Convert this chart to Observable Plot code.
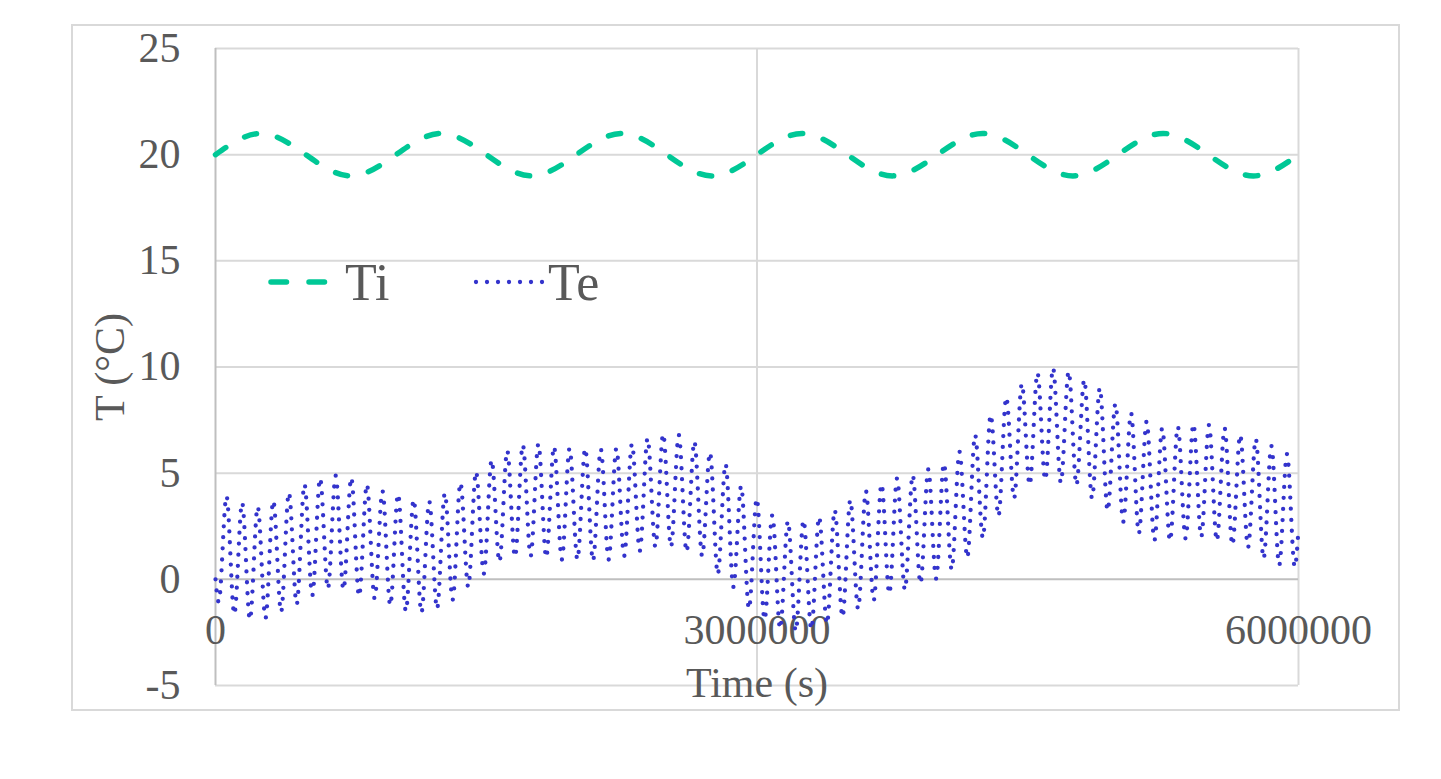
<!DOCTYPE html>
<html>
<head>
<meta charset="utf-8">
<script src="https://cdn.jsdelivr.net/npm/d3@7"></script>
<script src="https://cdn.jsdelivr.net/npm/@observablehq/plot@0.6"></script>
<style>
  body { margin: 0; background: #fff; }
  #wrap { position: relative; width: 1441px; height: 779px; overflow: hidden; }
  #border { position: absolute; left: 71px; top: 24px; width: 1325px; height: 683px; border: 2px solid #d9d9d9; }
  #chart { position: absolute; left: 0; top: 0; }
  #legend { position: absolute; left: 0; top: 0; pointer-events: none; }
</style>
</head>
<body>
<div id="wrap">
  <div id="border"></div>
  <div id="chart"></div>
  <svg id="legend" width="1441" height="779"></svg>
</div>
<script>
// ---- data ----
const xTicks = [0, 3000000, 6000000];
const yTicks = [-5, 0, 5, 10, 15, 20, 25];
const xTitle = "Time (s)";
const yTitle = "T (°C)";
const seriesNames = ["Ti", "Te"];

// Ti: value every 250000 s
const tiStep = 250000;
const tiValues = [20, 21, 20, 19, 20, 21, 20, 19, 20, 21, 20, 19, 20,
                  21, 20, 19, 20, 21, 20, 19, 20, 21, 20, 19, 20];

// Te: daily maxima / minima (one per day), plus start and end values
const daySeconds = 86400;
const tePeakOffset = 61000;
const teTroughOffset = 17800;
const teStart = 0;
const teEnd = 2.4;
const tePeaks = [
  3.92, 3.61, 3.42, 3.70, 4.08, 4.47, 4.76, 4.88, 4.79, 4.47, 4.16, 4.02, 3.76, 3.67, 4.05, 4.55, 5.07, 5.62,
  6.06, 6.33, 6.38, 6.25, 6.17, 6.17, 6.13, 6.17, 6.38, 6.64, 6.85, 6.80, 6.49, 5.97, 5.43, 4.39, 3.81, 3.02,
  2.74, 2.79, 2.94, 3.26, 3.73, 4.16, 4.49, 4.76, 4.91, 5.18, 5.46, 6.01, 6.80, 7.75, 8.58, 9.21, 9.72,
  9.95, 9.79, 9.40, 9.01, 8.27, 7.83, 7.43, 7.12, 7.19, 7.32, 7.27, 7.12, 6.80, 6.61, 6.28, 5.90
];
const teTroughs = [
  -1.07, -1.65, -1.90, -1.83, -1.54, -1.18, -0.76, -0.44, -0.49, -0.80, -0.91, -1.23, -1.50, -1.57, -1.39, -0.96, -0.36, 0.27, 0.82,
  1.05, 1.09, 1.02, 0.93, 0.93, 0.87, 0.93, 1.10, 1.34, 1.53, 1.53, 1.29, 1.09, 0.24, -0.36, -1.39, -1.90,
  -2.33, -2.44, -2.35, -2.10, -1.78, -1.39, -0.99, -0.68, -0.49, -0.20, 0.03, 0.46, 1.02, 1.95, 2.98, 3.81, 4.44,
  4.68, 4.55, 4.44, 3.81, 3.23, 2.71, 2.16, 1.84, 1.81, 1.92, 2.00, 1.81, 1.61, 1.50, 0.98, 0.66, 0.58
];

// ---- build tables ----
const ti = tiValues.map((v, i) => ({t: i * tiStep, v}));
const te = [{t: 0, v: teStart}];
for (let j = 0; j < teTroughs.length; j++) {
  te.push({t: teTroughOffset + j * daySeconds, v: teTroughs[j]});
  if (j < tePeaks.length) te.push({t: tePeakOffset + j * daySeconds, v: tePeaks[j]});
}
te.push({t: xTicks[xTicks.length - 1], v: teEnd});

const tiColor = "#00c896";
const teColor = "#3333cc";
const textColor = "#595959";
const font = '"Liberation Serif", "Times New Roman", serif';

const chart = Plot.plot({
  width: 1441,
  height: 779,
  marginLeft: 215,
  marginRight: 143,
  marginTop: 48,
  marginBottom: 94,
  style: {fontFamily: font, fontSize: "42px", color: textColor, background: "transparent"},
  x: {domain: [0, 6000000], axis: null},
  y: {domain: [-5, 25], axis: null},
  marks: [
    Plot.ruleY(yTicks.filter(d => d !== 0), {y: d => d, stroke: "#d9d9d9", strokeWidth: 2}),
    Plot.ruleX(xTicks.filter(d => d !== 0), {x: d => d, y1: -5, y2: 25, stroke: "#d9d9d9", strokeWidth: 2}),
    Plot.ruleX([0], {x: d => d, y1: -5, y2: 25, stroke: "#bfbfbf", strokeWidth: 2}),
    Plot.ruleY([0], {y: d => d, stroke: "#bfbfbf", strokeWidth: 2}),
    Plot.text(yTicks, {x: 0, y: d => d, text: d => String(d), textAnchor: "end", dx: -35, fill: textColor}),
    Plot.text(xTicks, {x: d => d, y: 0, text: d => String(d), dy: 51, fill: textColor}),
    Plot.text([xTitle], {x: 3000000, y: -5, text: d => d, dy: -2, fill: textColor}),
    Plot.text([yTitle], {x: 0, y: 10, text: d => d, rotate: -90, dx: -105, fill: textColor}),
    Plot.line(ti, {x: "t", y: "v", curve: "natural", stroke: tiColor, strokeWidth: 5.5,
      strokeDasharray: "12.5,21.5", strokeLinecap: "round"}),
    Plot.line(te, {x: "t", y: "v", curve: "monotone-x", stroke: teColor, strokeWidth: 4.3,
      strokeDasharray: "0,11", strokeLinecap: "round"})
  ]
});
document.getElementById("chart").appendChild(chart);

// ---- legend (inside plot area) ----
const lg = d3.select("#legend");
lg.append("line").attr("x1", 271).attr("x2", 324.5).attr("y1", 282).attr("y2", 282)
  .attr("stroke", tiColor).attr("stroke-width", 5.5).attr("stroke-dasharray", "15.5,22.5").attr("stroke-linecap", "round");
lg.append("text").attr("x", 345).attr("y", 300).text(seriesNames[0])
  .attr("font-family", font).attr("font-size", 52).attr("fill", textColor);
lg.append("line").attr("x1", 476).attr("x2", 543.5).attr("y1", 282).attr("y2", 282)
  .attr("stroke", teColor).attr("stroke-width", 4.3).attr("stroke-dasharray", "0,11").attr("stroke-linecap", "round");
lg.append("text").attr("x", 548).attr("y", 300).text(seriesNames[1])
  .attr("font-family", font).attr("font-size", 52).attr("fill", textColor);
</script>
</body>
</html>
